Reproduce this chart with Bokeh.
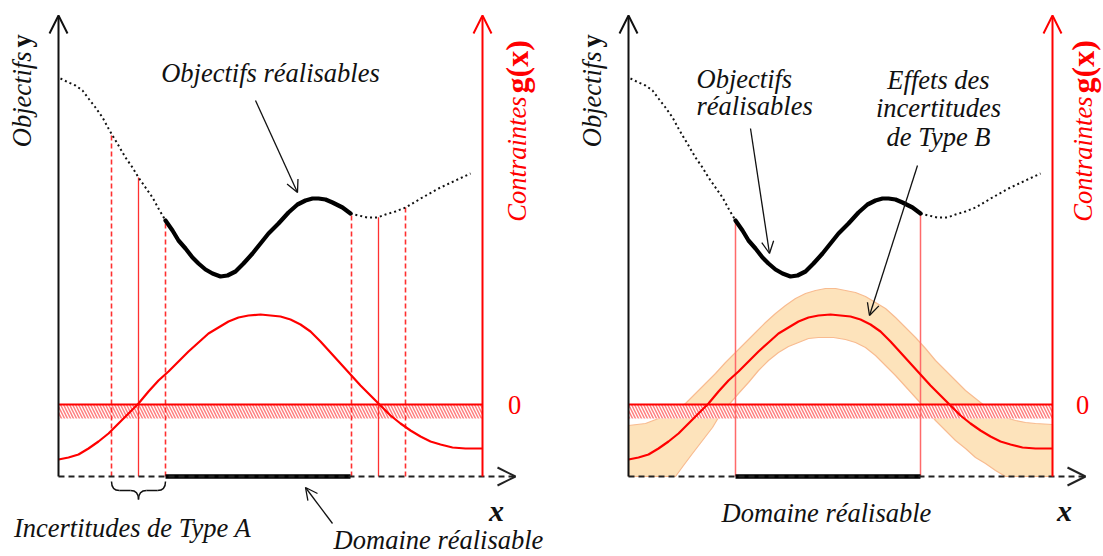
import numpy as np
from math import pi
from bokeh.plotting import figure
from bokeh.models import Range1d, Arrow, OpenHead, Label
from bokeh.layouts import row
from bokeh.embed import file_html
from bokeh.resources import INLINE

# ---------------- data (diagram units) ----------------
# objective y(x)
obj_x = [2, 10, 17, 24, 30, 37, 44, 50, 54, 60, 67, 74, 80, 87, 94, 100,
         107, 114, 120, 127, 134, 140, 147, 154, 162, 169, 177, 185, 194, 202, 210,
         220, 230, 239, 247, 254, 260, 267, 274, 284, 292,
         300, 309, 319, 327, 337, 347, 364, 380, 397, 412]
obj_y = [398, 394, 391, 386, 378, 369, 359, 348, 341, 331, 319, 309, 299, 289, 279, 268,
         256, 246, 236, 228, 219, 213, 207, 203, 200, 201, 205, 213, 223, 233, 243,
         253, 264, 272, 276, 278, 278, 277, 274, 269, 263,
         261, 259, 259, 262, 265, 269, 279, 288, 296, 303]
# constraint g(x)
g_x = [0, 10, 20, 30, 40, 50, 60, 70, 80, 90, 100, 110, 120, 130, 140, 150, 160, 170,
       180, 190, 202, 212, 222, 232, 242, 252, 262, 272, 282, 292, 302, 312, 322, 332,
       342, 352, 362, 372, 382, 394, 407, 424]
g_y = [-55, -53, -50, -44, -37, -29, -19, -9, 1, 13, 24, 33, 43, 53, 62, 71, 77, 83,
       87, 89, 90, 89, 88, 85, 80, 73, 63, 52, 41, 30, 19, 9, -1, -11,
       -19, -26, -32, -37, -40, -43, -44, -44]
# type B uncertainty band on g(x)
bandB_up_x = [0, 17, 30, 44, 57, 67, 77, 87, 97, 107, 117, 127, 137, 147, 157, 167, 177,
              187, 197, 207, 217, 227, 237, 247, 257, 267, 277, 287, 297, 307, 317, 327,
              337, 347, 357, 367, 377, 387, 397, 407, 424]
bandB_up_g = [-21, -19, -14, -8, 1, 11, 21, 31, 42, 52, 62, 72, 82, 91, 99, 106, 111,
              114, 116, 116, 114, 112, 108, 102, 96, 87, 77, 67, 56, 44, 34, 24,
              14, 6, -2, -8, -13, -16, -18, -19, -20]
bandB_lo_x = [0, 47, 55, 64, 74, 84, 90, 97, 104, 110, 120, 130, 140, 150, 160, 170, 180,
              190, 205, 217, 227, 237, 247, 257, 267, 277, 287, 297, 307, 317, 327, 337,
              347, 357, 367, 377, 424]
bandB_lo_g = [-72, -72, -61, -49, -36, -23, -13, -4, 4, 11, 22, 34, 44, 52, 58, 62, 66,
              67, 67, 65, 62, 57, 49, 39, 29, 18, 7, -4, -16, -26, -36, -44,
              -53, -59, -66, -72, -72]
domaine = [107, 292]          # feasible domain on x
g_zero_x = [80, 320]          # where g(x) = 0
incert_A = 27                 # type A uncertainty half-width
g_hatch = [-14, 0]            # hatched zone under g = 0
x_axis_end = 424              # position of the constraint axis
G0 = 72                       # objective-units height of g = 0

FONT = "Liberation Serif"
RED = "#ff0000"
H = 556


def make_panel(width, x_start):
    p = figure(width=width, height=H, x_range=Range1d(x_start, x_start + width),
               y_range=Range1d(476 - H, 476), output_backend="svg", toolbar_location=None,
               x_axis_location=None, y_axis_location=None, min_border=0)
    p.extra_y_ranges = {"g": Range1d(476 - H - G0, 476 - G0)}
    p.grid.visible = False
    p.outline_line_color = None
    p.background_fill_color = "white"
    p.border_fill_color = "white"
    return p


def lab(p, x, y, text, size="26.5px", color="#111111", style="italic", align="center",
        angle=0, yr="default"):
    p.add_layout(Label(x=x, y=y, text=text, text_font=FONT, text_font_size=size,
                       text_color=color, text_font_style=style, text_align=align,
                       text_baseline="middle", angle=angle, y_range_name=yr))


def arrow(p, x0, y0, x1, y1, color="#111111", lw=1.3, size=12, dash="solid", head_lw=None):
    p.add_layout(Arrow(x_start=x0, y_start=y0, x_end=x1, y_end=y1, line_color=color,
                       line_width=lw, line_dash=dash,
                       end=OpenHead(size=size, line_color=color,
                                    line_width=head_lw if head_lw else lw)))


def common(p, vlines_solid, vlines_dashed, vcolor, vwidth, ylab_x, glab_x):
    ox = np.array(obj_x, dtype=float)
    oy = np.array(obj_y, dtype=float)
    # hatched zone below g = 0
    p.quad(left=0, right=x_axis_end, bottom=g_hatch[0], top=g_hatch[1], y_range_name="g",
           fill_color="white", line_color=None, hatch_pattern="left_diagonal_line",
           hatch_color="#ff8080", hatch_scale=6, hatch_weight=1.5)
    # vertical lines from x axis to objective curve
    for xs, dash in ((vlines_solid, "solid"), (vlines_dashed, "5 3")):
        if xs:
            tops = np.interp(xs, ox, oy)
            p.segment(x0=xs, y0=[0] * len(xs), x1=xs, y1=list(tops), line_color=vcolor,
                      line_width=vwidth if dash == "solid" else 1.6, line_dash=dash)
    # g(x)
    p.line(g_x, g_y, y_range_name="g", line_color=RED, line_width=2.2)
    p.line([0, x_axis_end], [0, 0], y_range_name="g", line_color=RED, line_width=2)
    # objective
    left = ox <= domaine[0]
    mid = (ox >= domaine[0]) & (ox <= domaine[1])
    right = ox >= domaine[1]
    p.line(ox[left], oy[left], line_color="#111111", line_width=2, line_dash="2 3")
    p.line(ox[right], oy[right], line_color="#111111", line_width=2, line_dash="2 3")
    p.line(ox[mid], oy[mid], line_color="black", line_width=4.2, line_cap="round",
           line_join="round")
    # x axis (dashed) + feasible domain
    arrow(p, 0, 0, 457, 0, color="#222222", lw=2, size=18, dash="6 4", head_lw=2)
    p.line(domaine, [0, 0], line_color="black", line_width=4.5)
    # y axes
    arrow(p, 0, 0, 0, 461, color="#111111", lw=2, size=18)
    arrow(p, x_axis_end, 0, x_axis_end, 461, color=RED, lw=2, size=18)
    # axis titles
    lab(p, ylab_x, 425, "Objectifs", align="right", angle=pi / 2)
    lab(p, ylab_x, 429, "y", style="bold", align="left", angle=pi / 2)
    lab(p, glab_x, 380, "Contraintes", color=RED, align="right", angle=pi / 2)
    lab(p, glab_x, 383, "g(x)", color=RED, style="bold", size="32px", align="left",
        angle=pi / 2)


# ---------------- left panel: type A ----------------
p1 = make_panel(556, -58)
dashed_A = [g_zero_x[0] - incert_A, g_zero_x[0] + incert_A,
            g_zero_x[1] - incert_A, g_zero_x[1] + incert_A]
common(p1, g_zero_x, dashed_A, "#ff3030", 1.3, -37, 458)
lab(p1, 456, 0, "0", color=RED, style="normal", yr="g")
lab(p1, 438, -34, "x", style="bold italic", size="30px")
lab(p1, 212, 404, "Objectifs réalisables")
arrow(p1, 197, 376, 239, 284)
# brace for type A uncertainty
a0, a1, c = dashed_A[0], dashed_A[1], g_zero_x[0]
p1.quadratic(x0=[a0, c, c, a1 - 8], y0=[-5, -23, -23, -14],
             x1=[a0 + 8, c - 8, c + 8, a1], y1=[-14, -14, -14, -5],
             cx=[a0, c, c, a1], cy=[-14, -14, -14, -14], line_color="#111111", line_width=1.5)
p1.segment(x0=[a0 + 8, c + 8], y0=[-14, -14], x1=[c - 8, a1 - 8], y1=[-14, -14],
           line_color="#111111", line_width=1.5)
lab(p1, 74, -51, "Incertitudes de Type A")
lab(p1, 380, -63, "Domaine réalisable")
arrow(p1, 274, -47, 247, -11)

# ---------------- right panel: type B ----------------
p2 = make_panel(547, -72)
band_x = bandB_up_x + bandB_lo_x[::-1]
band_g = bandB_up_g + bandB_lo_g[::-1]
p2.patch(band_x, band_g, y_range_name="g", fill_color="#fde3bb", line_color="#f8bb90",
         line_width=1.2)
common(p2, domaine, [], "#ff6a6a", 1.5, -37, 454)
lab(p2, 454, 0, "0", color=RED, style="normal", yr="g")
lab(p2, 436, -34, "x", style="bold italic", size="30px")
lab(p2, 68, 398, "Objectifs", align="left")
lab(p2, 68, 371, "réalisables", align="left")
arrow(p2, 122, 348, 141, 223)
lab(p2, 310, 397, "Effets des")
lab(p2, 310, 369, "incertitudes")
lab(p2, 310, 340, "de Type B")
arrow(p2, 289, 311, 241, 161)
lab(p2, 198, -36, "Domaine réalisable")

layout = row(p1, p2, spacing=0)
open("out.html", "w").write(file_html(layout, INLINE))
